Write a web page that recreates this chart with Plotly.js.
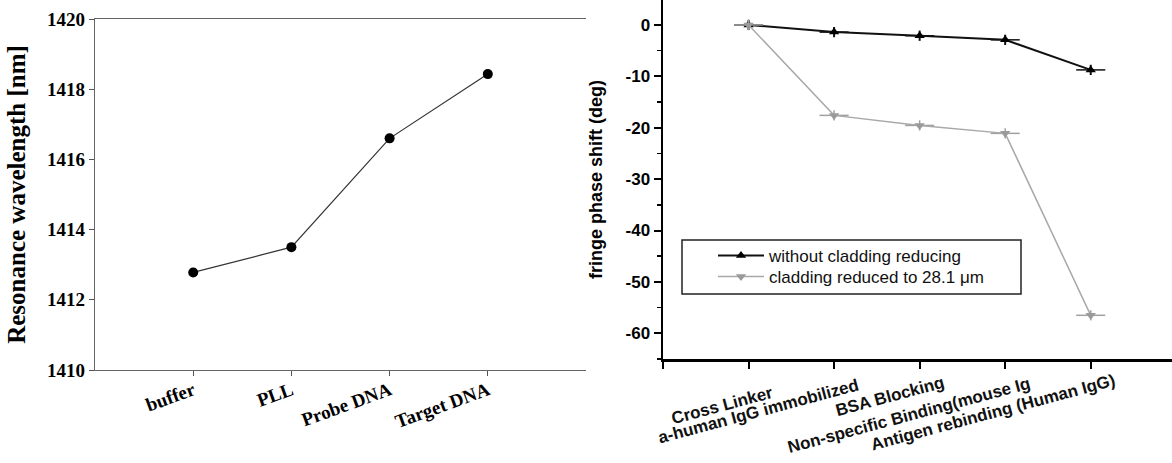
<!DOCTYPE html>
<html>
<head>
<meta charset="utf-8">
<script src="https://cdn.plot.ly/plotly-3.0.1.min.js"></script>
<style>
html,body{margin:0;padding:0;background:#fff;}
#chart{width:1172px;height:463px;}
</style>
</head>
<body>
<div id="chart"></div>
<script>
// ---- Left panel data ----
const leftCategories = ['buffer', 'PLL', 'Probe DNA', 'Target DNA'];
const leftValues = [1412.78, 1413.50, 1416.60, 1418.43];
const leftYTicks = [1410, 1412, 1414, 1416, 1418, 1420];

// ---- Right panel data ----
const rightCategories = ['Cross Linker', 'a-human IgG immobilized', 'BSA Blocking', 'Non-specific Binding(mouse Ig', 'Antigen rebinding (Human IgG)'];
const withoutReducing = [0, -1.4, -2.1, -2.9, -8.75];
const reducedTo281 = [0, -17.6, -19.55, -21.1, -56.5];
const rightYTicks = [0, -10, -20, -30, -40, -50, -60];
const seriesNames = ['without cladding reducing', 'cladding reduced to 28.1 \u03bcm'];

const leftX = leftCategories.map((_, i) => i + 1);
const rightX = rightCategories.map((_, i) => i + 1);

const W = 1172, H = 463;
const px = v => v / W;
const py = v => (H - v) / H;

const serifBold = 'Liberation Serif, Times New Roman, serif';
const sans = 'Liberation Sans, Arial, sans-serif';

const traces = [
  {
    x: leftX, y: leftValues, xaxis: 'x', yaxis: 'y',
    type: 'scatter', mode: 'lines+markers', showlegend: false,
    line: {color: '#333', width: 1.2},
    marker: {symbol: 'circle', size: 10, color: '#000'}
  },
  {
    x: rightX, y: withoutReducing, xaxis: 'x2', yaxis: 'y2',
    type: 'scatter', mode: 'lines+markers', name: seriesNames[0], legend: 'legend',
    line: {color: '#111', width: 2},
    marker: {symbol: 'triangle-up', size: 9, color: '#000'},
    error_x: {type: 'constant', value: 0.17, width: 0, thickness: 1.5, color: '#111'},
    error_y: {type: 'constant', value: 1, width: 0, thickness: 2, color: '#111'}
  },
  {
    x: rightX, y: reducedTo281, xaxis: 'x2', yaxis: 'y2',
    type: 'scatter', mode: 'lines+markers', name: seriesNames[1], legend: 'legend2',
    line: {color: '#a8a8a8', width: 1.5},
    marker: {symbol: 'triangle-down', size: 9, color: '#9a9a9a'},
    error_x: {type: 'constant', value: 0.17, width: 0, thickness: 1.5, color: '#a0a0a0'},
    error_y: {type: 'constant', value: 1, width: 0, thickness: 1.5, color: '#a0a0a0'}
  }
];

// category labels of the right panel, drawn as rotated annotations
const rightLabelTop = [380, 373, 370, 372, 368];
const annotations = rightCategories.map((c, i) => ({
  text: c, xref: 'x2', x: rightX[i], xshift: 29,
  yref: 'paper', y: py(rightLabelTop[i]),
  xanchor: 'right', yanchor: 'top', textangle: -15, showarrow: false,
  font: {family: sans, size: 17, color: '#111', weight: 'bold'}
}));

const legendBase = {
  xanchor: 'left', yanchor: 'top',
  bgcolor: 'rgba(0,0,0,0)', borderwidth: 0,
  itemwidth: 46, tracegroupgap: 0,
  font: {family: sans, size: 17, color: '#111'}
};

const layout = {
  width: W, height: H,
  margin: {l: 0, r: 0, t: 0, b: 0},
  paper_bgcolor: '#fff', plot_bgcolor: 'rgba(0,0,0,0)',
  showlegend: true,
  xaxis: {
    domain: [px(95), px(586)], range: [0, 5],
    tickvals: leftX, ticktext: leftCategories,
    tickangle: -20, ticks: 'outside', ticklen: 5, tickcolor: '#555',
    ticklabelstandoff: -4,
    tickfont: {family: serifBold, size: 19, color: '#000', weight: 'bold'},
    showline: true, linecolor: '#666', linewidth: 1.2, mirror: true,
    showgrid: false, zeroline: false
  },
  yaxis: {
    domain: [py(370), py(19)], range: [1410, 1420],
    tickvals: leftYTicks, ticks: 'outside', ticklen: 5, tickcolor: '#555',
    tickfont: {family: serifBold, size: 19, color: '#000', weight: 'bold'},
    showline: true, linecolor: '#666', linewidth: 1.2,
    showgrid: false, zeroline: false, anchor: 'x',
    title: {text: 'Resonance wavelength [nm]', font: {family: serifBold, size: 25, color: '#000', weight: 'bold'}, standoff: 14}
  },
  xaxis2: {
    domain: [px(663), 1], range: [0, 5.95], anchor: 'y2',
    tickvals: [0].concat(rightX), showticklabels: false,
    ticks: 'outside', ticklen: 7, tickwidth: 2, tickcolor: '#000',
    showline: true, linecolor: '#000', linewidth: 2.5, mirror: true,
    showgrid: false, zeroline: false
  },
  yaxis2: {
    domain: [py(359), 1], range: [-65, 4.85], anchor: 'x2',
    tickvals: rightYTicks, ticktext: rightYTicks.map(String),
    ticks: 'outside', ticklen: 7, tickwidth: 2, tickcolor: '#000',
    minor: {dtick: 5, ticks: 'outside', ticklen: 4, tickwidth: 1.5, tickcolor: '#000', showgrid: false},
    tickfont: {family: sans, size: 17, color: '#000', weight: 'bold'},
    showline: true, linecolor: '#000', linewidth: 2.5,
    showgrid: false, zeroline: false,
    title: {text: 'fringe phase shift (deg)', font: {family: sans, size: 18, color: '#000', weight: 'bold'}, standoff: 18}
  },
  legend: Object.assign({x: px(713), y: py(238)}, legendBase),
  legend2: Object.assign({x: px(713), y: py(259)}, legendBase),
  annotations: annotations,
  shapes: [
    {type: 'rect', xref: 'paper', yref: 'paper', x0: px(682), x1: px(1021), y0: py(294), y1: py(240),
     line: {color: '#222', width: 1.5}, fillcolor: 'rgba(0,0,0,0)'}
  ]
};

Plotly.newPlot('chart', traces, layout, {staticPlot: true, displayModeBar: false});
</script>
</body>
</html>
